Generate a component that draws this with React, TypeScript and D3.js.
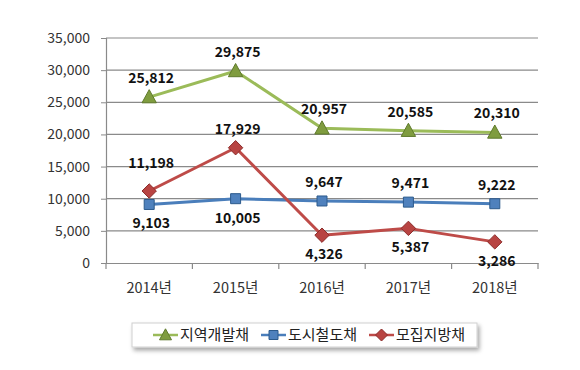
import { useEffect, useRef } from 'react';
import * as d3 from 'd3';

const years = ['2014년', '2015년', '2016년', '2017년', '2018년'];
const regionalBonds = [25812, 29875, 20957, 20585, 20310];
const subwayBonds = [9103, 10005, 9647, 9471, 9222];
const publicBonds = [11198, 17929, 4326, 5387, 3286];
const yTicks = [0, 5000, 10000, 15000, 20000, 25000, 30000, 35000];

const seriesNames = ['지역개발채', '도시철도채', '모집지방채'];
// label placement per point: 'a' above, 'b' below, 'A' further above
const regionalPlace = ['a', 'a', 'a', 'a', 'a'];
const subwayPlace = ['b', 'b', 'a', 'a', 'a'];
const publicPlace = ['A', 'a', 'b', 'b', 'b'];

const FONT = '"Noto Sans CJK KR", "Noto Sans", sans-serif';

export default function App() {
  const svgRef = useRef<SVGSVGElement>(null);
  const width = 580;
  const height = 370;

  useEffect(() => {
    if (!svgRef.current) return;
    const svg = d3.select(svgRef.current);
    svg.selectAll('*').remove();

    const defs = svg.append('defs');
    const shadow = defs.append('filter').attr('id', 'shadow')
      .attr('x', '-5%').attr('y', '-20%').attr('width', '110%').attr('height', '160%');
    shadow.append('feDropShadow').attr('dx', 2).attr('dy', 3)
      .attr('stdDeviation', 2).attr('flood-color', '#000').attr('flood-opacity', 0.35);

    // outer frame
    svg.append('rect')
      .attr('x', 1).attr('y', 1).attr('width', width - 3).attr('height', height - 3)
      .attr('fill', '#fff').attr('stroke', '#7a7a7a').attr('stroke-width', 1.5);

    const margin = { top: 38, left: 106, right: 42, bottom: 107 };
    const x = d3.scaleBand<string>().domain(years).range([margin.left, width - margin.right]);
    const y = d3.scaleLinear().domain([0, 35000]).range([height - margin.bottom, margin.top]);
    const cx = (d: string) => (x(d) || 0) + x.bandwidth() / 2;

    // gridlines
    svg.append('g').selectAll('line').data(yTicks.filter(t => t > 0)).join('line')
      .attr('x1', margin.left).attr('x2', width - margin.right)
      .attr('y1', d => y(d)).attr('y2', d => y(d))
      .attr('stroke', '#8a8a8a').attr('stroke-width', 1.2);

    // y axis
    const yAxis = svg.append('g').attr('transform', `translate(${margin.left},0)`)
      .call(d3.axisLeft(y).tickValues(yTicks).tickSize(5).tickPadding(11).tickFormat(d3.format(',')));
    yAxis.select('.domain').attr('stroke', '#8a8a8a').attr('stroke-width', 1.2);
    yAxis.selectAll('.tick line').attr('stroke', '#8a8a8a');
    yAxis.selectAll('text').attr('fill', '#333').style('font-size', '14px').style('font-family', FONT);

    // x axis
    const xAxis = svg.append('g').attr('transform', `translate(0,${y(0)})`)
      .call(d3.axisBottom(x).tickSize(0).tickPadding(20));
    xAxis.select('.domain').attr('stroke', '#8a8a8a').attr('stroke-width', 1.2);
    xAxis.selectAll('text').attr('fill', '#333').style('font-size', '14.5px').style('font-family', FONT);
    const bounds = years.map(d => x(d) || 0).concat([width - margin.right]);
    xAxis.selectAll('.bound').data(bounds).join('line').attr('class', 'bound')
      .attr('x1', d => d).attr('x2', d => d).attr('y1', 0).attr('y2', 6)
      .attr('stroke', '#8a8a8a').attr('stroke-width', 1.2);

    const series = [
      { name: seriesNames[0], values: regionalBonds, place: regionalPlace, line: '#9bbb59', fill: '#7f9c3f', stroke: '#5f7a2c', marker: 'tri' },
      { name: seriesNames[1], values: subwayBonds, place: subwayPlace, line: '#4a7ebb', fill: '#4f81bd', stroke: '#2c5a8c', marker: 'sq' },
      { name: seriesNames[2], values: publicBonds, place: publicPlace, line: '#be4b48', fill: '#b84442', stroke: '#8c2d2b', marker: 'dia' },
    ];

    const markerPath = (kind: string, s: number) => {
      if (kind === 'tri') return `M0,${-s * 0.62}L${s * 0.6},${s * 0.48}L${-s * 0.6},${s * 0.48}Z`;
      if (kind === 'sq') return `M${-s / 2},${-s / 2}h${s}v${s}h${-s}Z`;
      return `M0,${-s * 0.6}L${s * 0.6},0L0,${s * 0.6}L${-s * 0.6},0Z`;
    };

    const offset = (p: string) => (p === 'A' ? -28 : p === 'a' ? -19 : 19);

    const line = d3.line<number>()
      .x((_, i) => cx(years[i]))
      .y(d => y(d));

    series.forEach(s => {
      const g = svg.append('g');
      g.append('path').datum(s.values).attr('d', line)
        .attr('fill', 'none').attr('stroke', s.line).attr('stroke-width', 3).attr('stroke-linejoin', 'round');
      g.selectAll('.m').data(s.values).join('path').attr('class', 'm')
        .attr('transform', (d, i) => `translate(${cx(years[i])},${y(d)})`)
        .attr('d', markerPath(s.marker, s.marker === 'sq' ? 10 : 12))
        .attr('fill', s.fill).attr('stroke', s.stroke).attr('stroke-width', 1);
      g.selectAll('.lbl').data(s.values).join('text').attr('class', 'lbl')
        .attr('x', (d, i) => cx(years[i]) + 2)
        .attr('y', (d, i) => y(d) + offset(s.place[i]))
        .attr('dy', '0.35em')
        .attr('text-anchor', 'middle')
        .style('font-family', FONT).style('font-size', '14px').style('font-weight', 'bold')
        .attr('fill', '#111')
        .text(d => d3.format(',')(d));
    });

    // legend
    const lg = svg.append('g');
    lg.append('rect').attr('x', 132).attr('y', 323).attr('width', 345).attr('height', 24)
      .attr('fill', '#fff').attr('stroke', '#d0d0d0').attr('filter', 'url(#shadow)');
    const legendX = [153, 261, 369];
    series.forEach((s, i) => {
      const item = lg.append('g').attr('transform', `translate(${legendX[i]},335)`);
      item.append('line').attr('x1', 0).attr('x2', 25).attr('stroke', s.line).attr('stroke-width', 2.5);
      item.append('path').attr('transform', 'translate(12.5,0)')
        .attr('d', markerPath(s.marker, s.marker === 'sq' ? 9 : 10))
        .attr('fill', s.fill).attr('stroke', s.stroke).attr('stroke-width', 1);
      item.append('text').attr('x', 27).attr('dy', '0.35em')
        .style('font-family', FONT).style('font-size', '15px').attr('fill', '#222')
        .text(s.name);
    });
  }, []);

  return (
    <div style={{ margin: -8 }}>
      <svg ref={svgRef} width={width} height={height} style={{ display: 'block' }} />
    </div>
  );
}
